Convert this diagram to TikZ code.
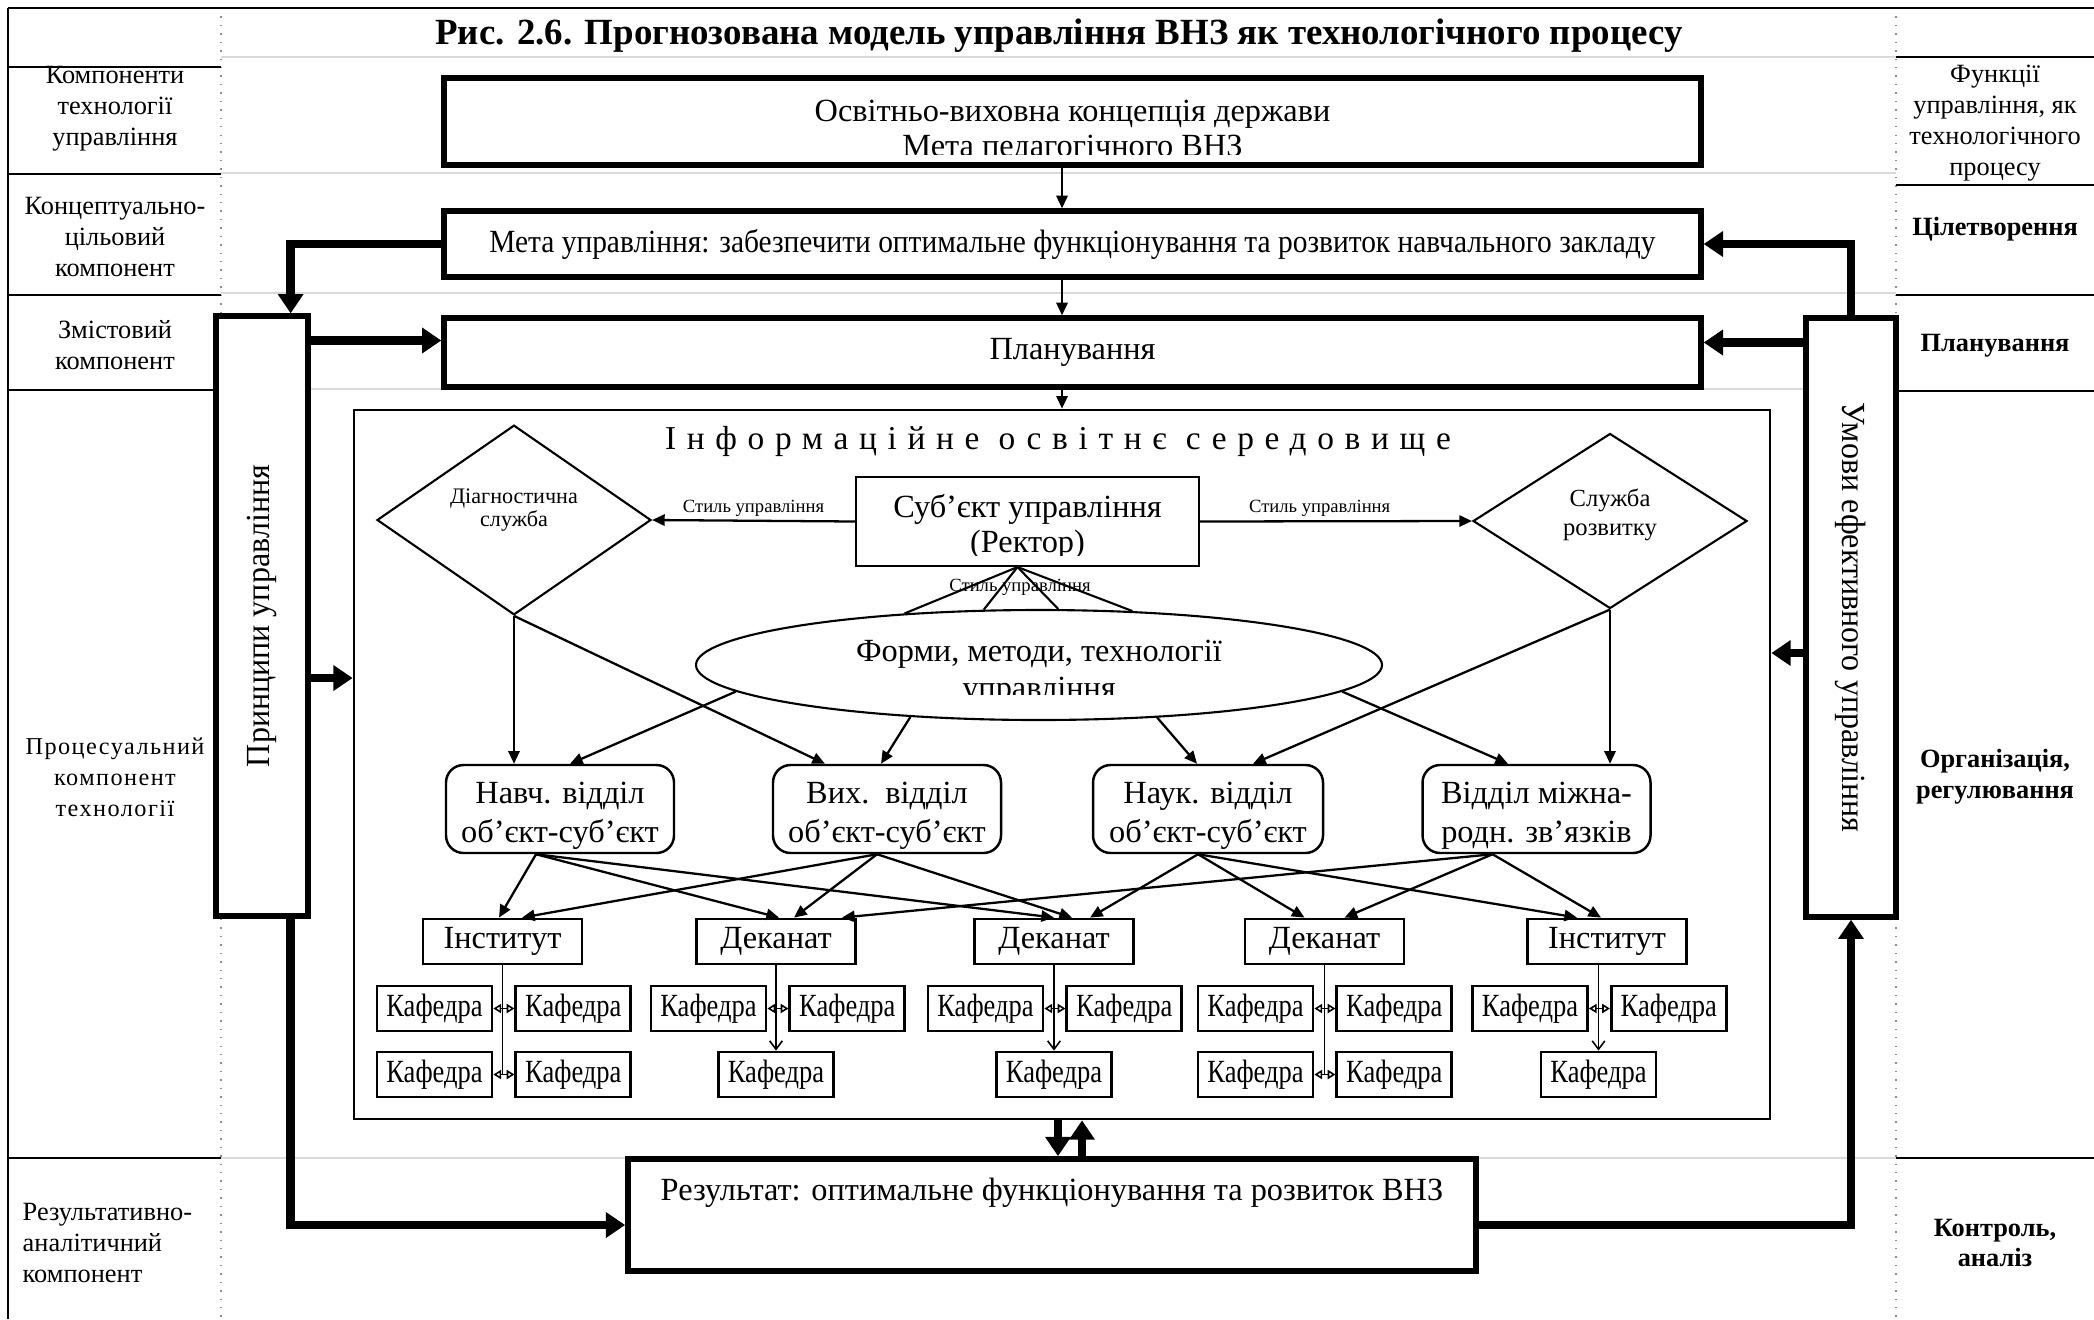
\documentclass[tikz,border=0pt]{standalone}
\usepackage{fontspec}
\setmainfont{Liberation Serif}
\newfontfamily\spacedfont[LetterSpace=32]{Liberation Serif}
\newfontfamily\widefont[LetterSpace=6]{Liberation Serif}
\newfontfamily\narrowfont[FakeStretch=0.91]{Liberation Serif}
\newfontfamily\kaffont[FakeStretch=0.82]{Liberation Serif}
\newfontfamily\sidefont[FakeStretch=0.95]{Liberation Serif}
\usepackage{graphicx}
\usetikzlibrary{positioning, shapes.geometric, arrows.meta, calc}
\newcommand{\mainsize}{\fontsize{9.2}{10}\selectfont}
\newcommand{\colsize}{\fontsize{7.5}{8.8}\selectfont}
\newcommand{\tinysize}{\fontsize{5.3}{6}\selectfont}

\begin{document}
\begin{tikzpicture}[y=-1cm,
    tabline/.style={line width=0.7pt},
    gridline/.style={draw=black!15, line width=0.8pt},
    dotline/.style={draw=black!45, dotted, line width=0.4pt},
    coltext/.style={align=center, font=\colsize, inner sep=0pt},
    funtext/.style={align=center, font=\colsize\bfseries, inner sep=0pt},
    bigbox/.style={draw, line width=1.5pt, fill=white, inner sep=0pt, font=\mainsize},
    dept/.style={draw, line width=0.7pt, rounded corners=5pt, fill=white, align=center, font=\fontsize{9.2}{11}\selectfont, minimum width=2.28cm, minimum height=0.88cm, inner sep=0pt, text height=0.73cm},
    unitbox/.style={draw, line width=0.8pt, fill=white, font=\mainsize, minimum width=1.59cm, minimum height=0.45cm, inner sep=0pt},
    kaf/.style={draw, line width=0.8pt, fill=white, font={\fontsize{9.2}{10}\kaffont}, minimum width=1.15cm, minimum height=0.45cm, inner sep=0pt},
    serv/.style={draw, diamond, line width=0.6pt, align=center, inner sep=0pt, minimum width=2.74cm, minimum height=1.75cm},
    arr/.style={-{Triangle[length=3.6pt,width=3.2pt]}, line width=0.65pt},
    fat/.style={-{Triangle[length=5.5pt,width=7pt]}, line width=2.4pt},
    twoway/.style={{Triangle[open,length=2.2pt,width=2.6pt]}-{Triangle[open,length=2.2pt,width=2.6pt]}, line width=0.45pt},
    kafarr/.style={-{Straight Barb[length=2.4pt,width=3.6pt]}, line width=0.45pt},
    lbl/.style={font=\tinysize, inner sep=1pt}]

\useasboundingbox (0,0) rectangle (20.94,13.19);

% table grid
\draw[gridline] (2.21,0.57) -- (18.96,0.57);
\draw[gridline] (2.21,1.73) -- (18.96,1.73);
\draw[gridline] (2.21,2.93) -- (18.96,2.93);
\draw[gridline] (2.21,3.89) -- (18.96,3.89);
\draw[gridline] (2.21,11.58) -- (18.96,11.58);
\draw[dotline] (2.21,0.08) -- (2.21,13.19);
\draw[dotline] (18.96,0.08) -- (18.96,13.19);
\draw[tabline] (0.08,0.08) -- (20.94,0.08);
\draw[tabline] (0.08,0.08) -- (0.08,13.19);
\draw[tabline] (0.08,0.67) -- (2.21,0.67);
\draw[tabline] (0.08,1.74) -- (2.21,1.74);
\draw[tabline] (0.08,2.95) -- (2.21,2.95);
\draw[tabline] (0.08,3.90) -- (2.21,3.90);
\draw[tabline] (0.08,11.58) -- (2.21,11.58);
\draw[tabline] (18.96,0.57) -- (20.94,0.57);
\draw[tabline] (18.96,1.85) -- (20.94,1.85);
\draw[tabline] (18.96,2.95) -- (20.94,2.95);
\draw[tabline] (18.96,3.91) -- (20.94,3.91);
\draw[tabline] (18.96,11.58) -- (20.94,11.58);

\node[font=\fontsize{10.5}{12}\selectfont\bfseries] (title) at (10.59,0.36) {Рис. 2.6. Прогнозована модель управління ВНЗ як технологічного процесу};

% left column
\node[coltext] (lc1) at (1.15,1.09) {Компоненти\\технології\\управління};
\node[coltext] (lc2) at (1.15,2.37) {Концептуально-\\цільовий\\компонент};
\node[coltext] (lc3) at (1.15,3.45) {Змістовий\\компонент};
\node[coltext, font={\fontsize{6.9}{8.8}\widefont}] (lc4) at (1.15,7.77) {Процесуальний\\компонент\\технології};
\node[coltext, align=left, anchor=west] (lc5) at (0.22,12.43) {Результативно-\\аналітичний\\компонент};

% right column
\node[coltext] (rc1) at (19.95,1.23) {Функції\\управління, як\\технологічного\\процесу};
\node[funtext] (rc2) at (19.95,2.29) {Цілетворення};
\node[funtext] (rc3) at (19.95,3.46) {Планування};
\node[funtext] (rc4) at (19.95,7.77) {Організація,\\регулювання};
\node[funtext] (rc5) at (19.95,12.43) {Контроль,\\аналіз};

% main boxes
\node[bigbox, minimum width=12.57cm, minimum height=0.87cm] (osv) at (10.725,1.215) {};
\begin{scope}
  \clip (osv.north west) rectangle (17.01,1.54);
  \node[align=center, font=\mainsize, inner sep=0pt] (osvtxt) at (10.725,1.31) {Освітньо-виховна концепція держави\\Мета педагогічного ВНЗ};
\end{scope}
\node[bigbox, minimum width=12.57cm, minimum height=0.66cm, font={\fontsize{9.2}{10}\narrowfont}] (meta) at (10.725,2.44) {Мета управління: забезпечити оптимальне функціонування та розвиток навчального закладу};
\node[bigbox, minimum width=12.57cm, minimum height=0.69cm] (plan) at (10.725,3.525) {Планування};

\node[bigbox, minimum width=0.92cm, minimum height=6.00cm, font={\fontsize{9.6}{11}\sidefont}] (princ) at (2.62,6.16) {\rotatebox{90}{Принципи управління}};
\node[bigbox, minimum width=0.90cm, minimum height=5.99cm, font={\fontsize{9.6}{11}\sidefont}] (umovy) at (18.51,6.175) {\rotatebox{-90}{Умови ефективного управління}};

\node[bigbox, line width=1.6pt, minimum width=8.48cm, minimum height=1.12cm, text height=0.2cm, text depth=0.5cm] (rez) at (10.52,12.15) {Результат: оптимальне функціонування та розвиток ВНЗ};

% information environment
\node[draw, line width=0.75pt, minimum width=14.16cm, minimum height=7.09cm, inner sep=0pt] (info) at (10.62,7.645) {};
\node[font={\fontsize{9.5}{11}\spacedfont}] (infotitle) at (10.58,4.41) {Інформаційне освітнє середовище};

\node[draw, line width=0.6pt, minimum width=3.43cm, minimum height=0.89cm, inner sep=0pt] (rect) at (10.275,5.215) {};
\begin{scope}
  \clip (rect.north west) rectangle (11.99,5.55);
  \node[align=center, font=\mainsize, inner sep=0pt] (recttxt) at (10.275,5.27) {Суб’єкт управління\\(Ректор)};
\end{scope}

\node[serv, font=\fontsize{6.3}{6.6}\selectfont, text depth=0.24cm] (diag) at (5.14,5.20) {Діагностична\\служба};
\node[serv, font=\fontsize{7}{8.2}\selectfont, text depth=0.18cm] (rozv) at (16.10,5.21) {Служба\\розвитку};

\node[draw, ellipse, line width=0.6pt, minimum width=6.86cm, minimum height=1.10cm, inner sep=0pt] (forms) at (10.39,6.65) {};
\begin{scope}
  \clip (6.9,6.0) rectangle (13.9,6.94);
  \node[align=center, font=\fontsize{9.2}{10.5}\selectfont, inner sep=0pt] (formstxt) at (10.39,6.73) {Форми, методи, технології\\управління};
\end{scope}

\draw[arr] (rect.west) -- node[lbl, above] (st1) {Стиль управління} (diag.east);
\draw[arr] (rect.east) -- node[lbl, above, pos=0.44] (st2) {Стиль управління} (rozv.west);
\coordinate (fan) at ($(rect.south)+(-0.1,0)$);
\draw[line width=0.6pt] (fan) -- (forms.159);
\draw[line width=0.6pt] (fan) -- (forms.135);
\draw[line width=0.6pt] (fan) -- (forms.71);
\draw[line width=0.6pt] (fan) -- (forms.30);
\node[lbl] (st3) at (10.20,5.87) {Стиль управління};

% departments
\node[dept] (navch) at (5.60,8.09) {Навч. відділ\\об’єкт-суб’єкт};
\node[dept] (vykh) at (8.87,8.09) {Вих.\ \ відділ\\об’єкт-суб’єкт};
\node[dept, minimum width=2.30cm] (nauk) at (12.08,8.09) {Наук. відділ\\об’єкт-суб’єкт};
\node[dept] (mizh) at (15.365,8.09) {Відділ міжна-\\родн. зв’язків};

\draw[arr] (diag.south) -- (diag.south |- navch.north);
\draw[arr] (diag.south) -- ($(vykh.north)+(-0.62,0)$);
\draw[arr] (forms.185) -- ($(navch.north)+(0.10,0)$);
\draw[arr] (forms.202) -- ($(vykh.north)+(-0.06,0)$);
\draw[arr] (forms.336) -- ($(nauk.north)+(-0.11,0)$);
\draw[arr] (forms.355) -- ($(mizh.north)+(-0.285,0)$);
\draw[arr] (rozv.south) -- ($(nauk.north)+(0.45,0)$);
\draw[arr] (rozv.south) -- (rozv.south |- mizh.north);

% institutes and deaneries
\node[unitbox] (inst1) at (5.025,9.415) {Інститут};
\node[unitbox] (dek1) at (7.76,9.415) {Деканат};
\node[unitbox] (dek2) at (10.54,9.415) {Деканат};
\node[unitbox] (dek3) at (13.245,9.415) {Деканат};
\node[unitbox] (inst2) at (16.07,9.415) {Інститут};

\coordinate (navchout) at ($(navch.south)+(-0.24,0)$);
\coordinate (vykhout) at ($(vykh.south)+(-0.10,0)$);
\coordinate (naukout) at ($(nauk.south)+(-0.10,0)$);
\coordinate (mizhout) at ($(mizh.south)+(-0.44,0)$);
\draw[arr] (navchout) -- ($(inst1.north)+(-0.035,0)$);
\draw[arr] (navchout) -- ($(dek1.north)+(0.03,0)$);
\draw[arr] (navchout) -- (dek2.north);
\draw[arr] (vykhout) -- ($(inst1.north)+(0.195,0)$);
\draw[arr] (vykhout) -- ($(dek1.north)+(0.18,0)$);
\draw[arr] (vykhout) -- ($(dek2.north)+(0.18,0)$);
\draw[arr] (naukout) -- ($(dek2.north)+(0.36,0)$);
\draw[arr] (naukout) -- ($(dek3.north)+(-0.2,0)$);
\draw[arr] (naukout) -- ($(inst2.north)+(-0.3,0)$);
\draw[arr] (mizhout) -- ($(dek1.north)+(0.66,0)$);
\draw[arr] (mizhout) -- ($(dek3.north)+(0.2,0)$);
\draw[arr] (mizhout) -- ($(inst2.north)+(-0.06,0)$);

% departments (kafedry)
\node[kaf] (i1a) at (4.345,10.085) {Кафедра};
\node[kaf, right=0.21cm of i1a] (i1b) {Кафедра};
\node[kaf] (i1c) at (4.345,10.745) {Кафедра};
\node[kaf, right=0.21cm of i1c] (i1d) {Кафедра};
\draw[line width=0.45pt] (inst1.south) -- (inst1.south |- i1c.east);
\draw[twoway] (i1a) -- (i1b);
\draw[twoway] (i1c) -- (i1d);

\node[kaf] (d1a) at (7.085,10.085) {Кафедра};
\node[kaf, right=0.21cm of d1a] (d1b) {Кафедра};
\node[kaf] (d1c) at (7.76,10.745) {Кафедра};
\draw[kafarr] (dek1.south) -- (d1c.north);
\draw[twoway] (d1a) -- (d1b);

\node[kaf] (d2a) at (9.855,10.085) {Кафедра};
\node[kaf, right=0.21cm of d2a] (d2b) {Кафедра};
\node[kaf] (d2c) at (10.54,10.745) {Кафедра};
\draw[kafarr] (dek2.south) -- (d2c.north);
\draw[twoway] (d2a) -- (d2b);

\node[kaf] (d3a) at (12.555,10.085) {Кафедра};
\node[kaf, right=0.21cm of d3a] (d3b) {Кафедра};
\node[kaf] (d3c) at (12.555,10.745) {Кафедра};
\node[kaf, right=0.21cm of d3c] (d3d) {Кафедра};
\draw[line width=0.45pt] (dek3.south) -- (dek3.south |- d3c.east);
\draw[twoway] (d3a) -- (d3b);
\draw[twoway] (d3c) -- (d3d);

\node[kaf] (i2a) at (15.30,10.085) {Кафедра};
\node[kaf, right=0.21cm of i2a] (i2b) {Кафедра};
\node[kaf] (i2c) at (15.985,10.745) {Кафедра};
\draw[kafarr] (inst2.south -| i2c.north) -- (i2c.north);
\draw[twoway] (i2a) -- (i2b);

% vertical flow
\draw[arr] (osv.south -| info.center) -- (meta.north -| info.center);
\draw[arr] (meta.south -| info.center) -- (plan.north -| info.center);
\draw[arr] (plan.south -| info.center) -- (info.north);

% thick connectors
\coordinate (planin) at ($(plan.west)+(0,-0.12)$);
\coordinate (planout) at ($(plan.east)+(0,-0.10)$);
\coordinate (infoin) at ($(info.west)+(0,-0.865)$);
\coordinate (infoout) at ($(info.east)+(0,-1.115)$);
\coordinate (rezin) at ($(rez.west)+(0,0.10)$);
\coordinate (rezout) at ($(rez.east)+(0,0.10)$);
\coordinate (dn) at (10.58,0);
\coordinate (up) at (10.82,0);
\draw[fat] (meta.west) -| ($(princ.north east)+(-0.2,0)$);
\draw[fat] (princ.east |- planin) -- (planin);
\draw[fat] (princ.east |- infoin) -- (infoin);
\draw[fat] ($(princ.south east)+(-0.2,0)$) |- (rezin);
\draw[fat] (rezout) -| (umovy.south);
\draw[fat] (umovy.north) |- (meta.east);
\draw[fat] (umovy.west |- planout) -- (planout);
\draw[fat] (umovy.west |- infoout) -- (infoout);
\draw[fat] (info.south -| dn) -- (rez.north -| dn);
\draw[fat] (rez.north -| up) -- (info.south -| up);
\end{tikzpicture}
\end{document}
